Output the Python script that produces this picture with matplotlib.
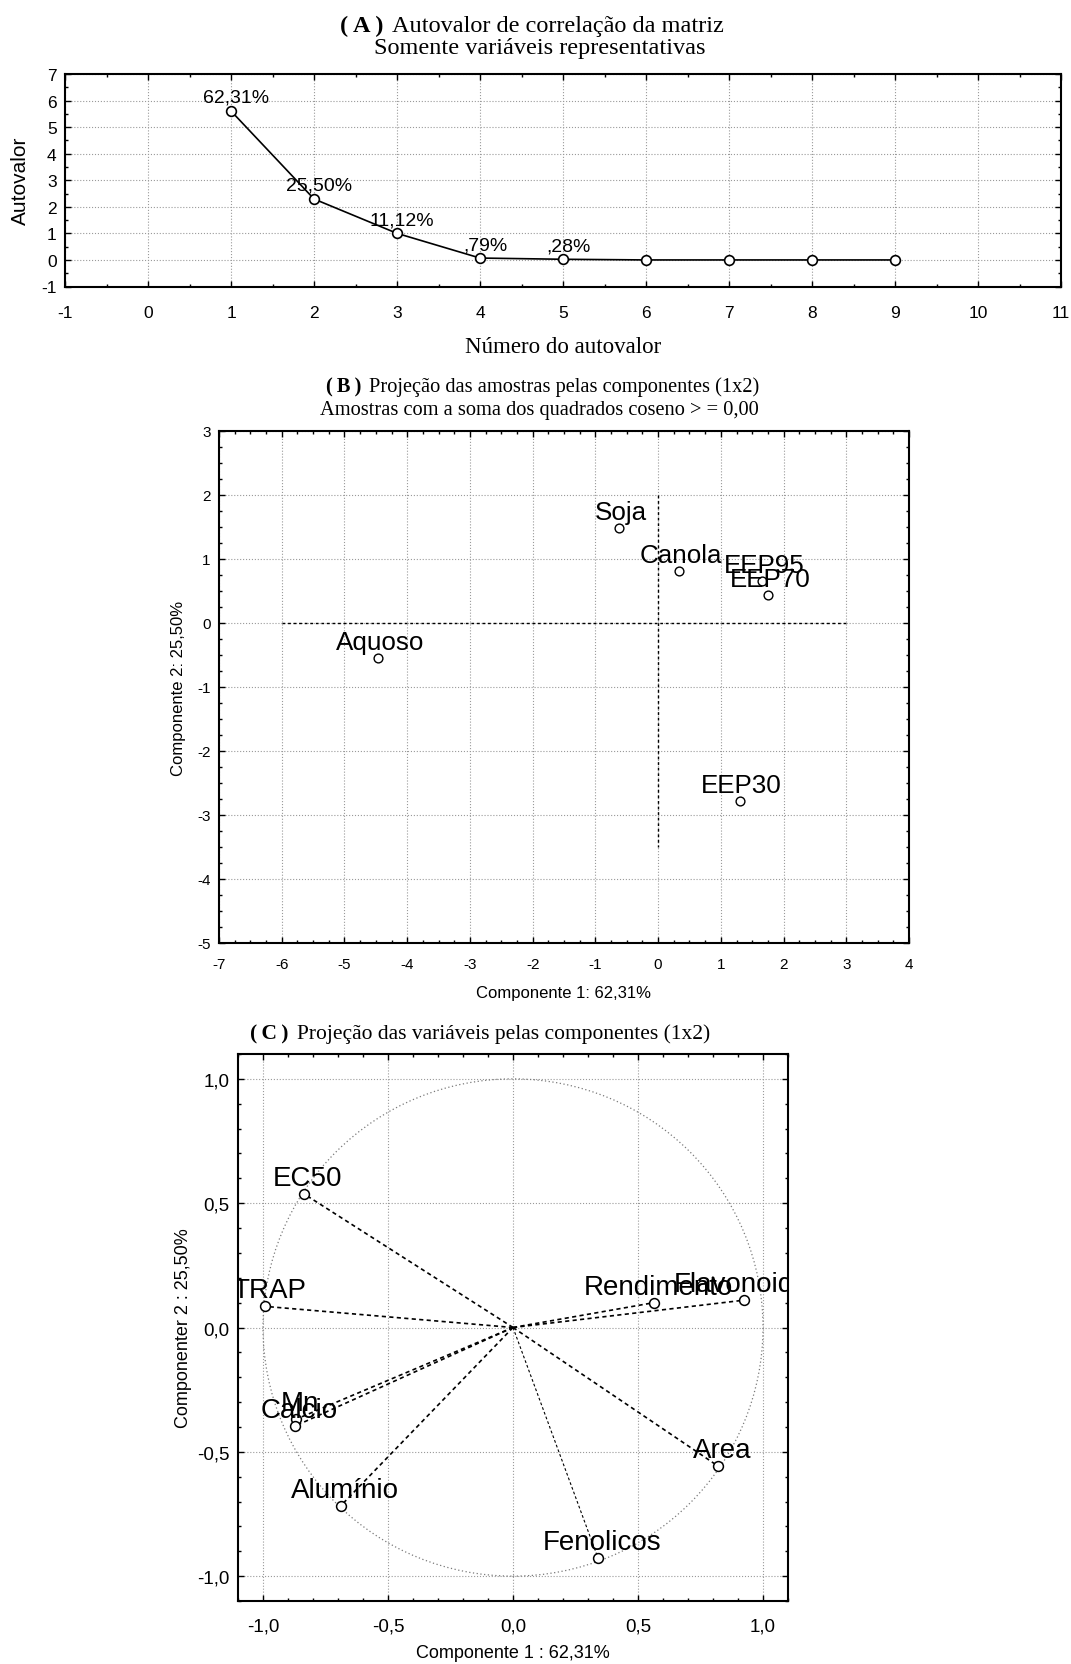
import matplotlib
matplotlib.use("Agg")
import matplotlib.pyplot as plt
from matplotlib.patches import Circle
from matplotlib.ticker import AutoMinorLocator, FixedLocator, FuncFormatter

plt.rcParams["font.family"] = ["Liberation Sans", "DejaVu Sans"]
plt.rcParams["axes.unicode_minus"] = False

SERIF = ["Liberation Serif", "DejaVu Serif"]

# (A) eigenvalues
eig_num = [1, 2, 3, 4, 5, 6, 7, 8, 9]
eig_val = [5.608, 2.295, 1.001, 0.071, 0.025, 0.0, 0.0, 0.0, 0.0]
eig_lbl = ["62,31%", "25,50%", "11,12%", ",79%", ",28%"]

# (B) sample scores
samp_names = ["Soja", "Canola", "EEP95", "EEP70", "Aquoso", "EEP30"]
samp_c1 = [-0.62, 0.33, 1.66, 1.76, -4.47, 1.30]
samp_c2 = [1.48, 0.81, 0.66, 0.43, -0.54, -2.78]

# (C) variable loadings
var_names = ["EC50", "TRAP", "Rendimento", "Flavonoides", "Mn", "Calcio",
             "Alumínio", "Area", "Fenolicos"]
var_c1 = [-0.837, -0.992, 0.564, 0.925, -0.868, -0.873, -0.688, 0.821, 0.340]
var_c2 = [0.538, 0.085, 0.100, 0.110, -0.369, -0.397, -0.716, -0.558, -0.927]

W, H = 1071, 1665
fig = plt.figure(figsize=(W / 100, H / 100), dpi=100)


def rect(left, top, right, bottom):
    return [left / W, 1 - bottom / H, (right - left) / W, (bottom - top) / H]


def style(ax, tick_fs, xpad, ypad, minor):
    for s in ax.spines.values():
        s.set_linewidth(1.5)
    ax.grid(True, which="major", linestyle=":", color="#9a9a9a", linewidth=0.8)
    ax.set_axisbelow(True)
    ax.xaxis.set_minor_locator(AutoMinorLocator(minor))
    ax.yaxis.set_minor_locator(AutoMinorLocator(minor))
    ax.tick_params(which="both", direction="in", top=True, right=True,
                   width=1.0, labelsize=tick_fs)
    ax.tick_params(which="major", length=4)
    ax.tick_params(which="minor", length=2.5)
    ax.tick_params(axis="x", pad=xpad)
    ax.tick_params(axis="y", pad=ypad)


def title(x_split, y, bold, main, fs):
    # bold tag ends just left of x_split, plain text starts just right of it
    fig.text((x_split - 4) / W, 1 - y / H, bold, family=SERIF, weight="bold",
             fontsize=fs, ha="right", va="baseline")
    fig.text((x_split + 4) / W, 1 - y / H, main, family=SERIF,
             fontsize=fs, ha="left", va="baseline")


int_fmt = FuncFormatter(lambda v, p: f"{v:.0f}")
dec_fmt = FuncFormatter(lambda v, p: f"{v:.1f}".replace(".", ","))

# ---- panel A ----
axA = fig.add_axes(rect(65, 75, 1061, 287.5))
axA.plot(eig_num, eig_val, color="black", linewidth=1.2, marker="o",
         markersize=7, markerfacecolor="white", markeredgecolor="black",
         markeredgewidth=1.2, zorder=3)
for x, y, t in zip(eig_num, eig_val, eig_lbl):
    axA.annotate(t, (x, y), xytext=(5, 9), textcoords="offset pixels",
                 ha="center", va="baseline", fontsize=14, zorder=4)
axA.set_xlim(-1, 11)
axA.set_ylim(-1, 7)
axA.xaxis.set_major_locator(FixedLocator(range(-1, 12)))
axA.yaxis.set_major_locator(FixedLocator(range(-1, 8)))
axA.xaxis.set_major_formatter(int_fmt)
axA.yaxis.set_major_formatter(int_fmt)
style(axA, 12.5, 13, 6, 2)
axA.set_xlabel("Número do autovalor", family=SERIF, fontsize=16.5, labelpad=12)
axA.set_ylabel("Autovalor", fontsize=15, labelpad=8)
title(388, 32, "(\u2009A\u2009)", "Autovalor de correlação da matriz", 17.5)
fig.text(540 / W, 1 - 54 / H, "Somente variáveis representativas",
         family=SERIF, fontsize=17.5, ha="center", va="baseline")

# ---- panel B ----
axB = fig.add_axes(rect(219, 432, 909, 944))
axB.plot([-6, 3], [0, 0], color="black", linestyle=(0, (2, 2)), linewidth=1.0)
axB.plot([0, 0], [2, -3.5], color="black", linestyle=(0, (2, 2)), linewidth=1.0)
axB.scatter(samp_c1, samp_c2, s=40, facecolors="white", edgecolors="black",
            linewidths=1.0, zorder=3)
for x, y, t in zip(samp_c1, samp_c2, samp_names):
    axB.annotate(t, (x, y), xytext=(2, 9), textcoords="offset pixels",
                 ha="center", va="baseline", fontsize=18.7, zorder=4)
axB.set_xlim(-7, 4)
axB.set_ylim(-5, 3)
axB.xaxis.set_major_locator(FixedLocator(range(-7, 5)))
axB.yaxis.set_major_locator(FixedLocator(range(-5, 4)))
axB.xaxis.set_major_formatter(int_fmt)
axB.yaxis.set_major_formatter(int_fmt)
style(axB, 11, 10, 6, 4)
axB.set_xlabel("Componente 1: 62,31%", fontsize=12, labelpad=10)
axB.set_ylabel("Componente 2: 25,50%", fontsize=12, labelpad=8)
title(365, 392, "(\u2009B\u2009)", "Projeção das amostras pelas componentes (1x2)", 14.7)
fig.text(539 / W, 1 - 415 / H,
         "Amostras com a soma dos quadrados coseno > = 0,00",
         family=SERIF, fontsize=14.7, ha="center", va="baseline")

# ---- panel C ----
axC = fig.add_axes(rect(238, 1055, 788, 1602))
axC.add_patch(Circle((0, 0), 1.0, fill=False, edgecolor="#7a7a7a",
                     linestyle=(0, (1, 2)), linewidth=0.9))
for x, y, t in zip(var_c1, var_c2, var_names):
    lw = 0.8 if t == "Fenolicos" else 1.2
    axC.plot([0, x], [0, y], color="black", linestyle=(0, (2.5, 2)),
             linewidth=lw, zorder=2)
axC.scatter(var_c1, var_c2, s=50, facecolors="white", edgecolors="black",
            linewidths=1.1, zorder=3)
for x, y, t in zip(var_c1, var_c2, var_names):
    axC.annotate(t, (x, y), xytext=(4, 9), textcoords="offset pixels",
                 ha="center", va="baseline", fontsize=20, zorder=4,
                 clip_on=True)
axC.set_xlim(-1.1, 1.1)
axC.set_ylim(-1.1, 1.1)
axC.xaxis.set_major_locator(FixedLocator([-1, -0.5, 0, 0.5, 1]))
axC.yaxis.set_major_locator(FixedLocator([-1, -0.5, 0, 0.5, 1]))
axC.xaxis.set_major_formatter(dec_fmt)
axC.yaxis.set_major_formatter(dec_fmt)
style(axC, 13.5, 12, 6, 5)
axC.set_xlabel("Componente 1 : 62,31%", fontsize=13, labelpad=7)
axC.set_ylabel("Componenter 2 : 25,50%", fontsize=13, labelpad=4)
title(293, 1039, "(\u2009C\u2009)", "Projeção das variáveis pelas componentes (1x2)", 15.5)

fig.savefig("out.png", dpi=100)
